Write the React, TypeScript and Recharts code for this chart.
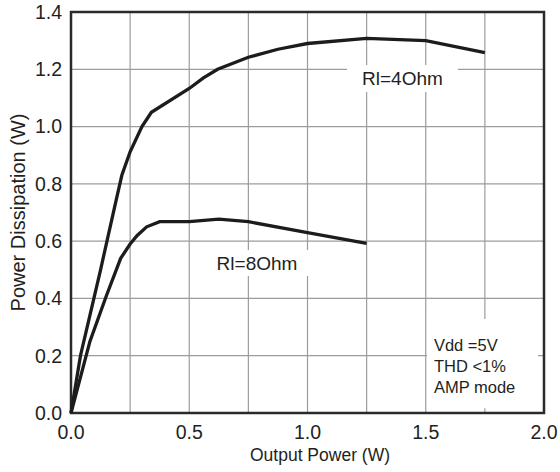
import React from 'react';
import { LineChart, Line, XAxis, YAxis, CartesianGrid, ReferenceArea } from 'recharts';

const rl4X = [0, 0.04, 0.125, 0.19, 0.215, 0.25, 0.3, 0.34, 0.5, 0.56, 0.62, 0.75, 0.875, 1.0, 1.25, 1.5, 1.75];
const rl4Y = [0, 0.2, 0.5, 0.74, 0.83, 0.912, 1.0, 1.05, 1.133, 1.17, 1.2, 1.242, 1.27, 1.29, 1.308, 1.3, 1.258];
const rl8X = [0, 0.08, 0.15, 0.21, 0.25, 0.28, 0.32, 0.375, 0.5, 0.625, 0.75, 1.0, 1.25];
const rl8Y = [0, 0.25, 0.41, 0.54, 0.59, 0.62, 0.65, 0.668, 0.668, 0.677, 0.668, 0.63, 0.592];

const xTickValues = [0, 0.25, 0.5, 0.75, 1.0, 1.25, 1.5, 1.75, 2.0];
const xTickLabels = ['0.0', '', '0.5', '', '1.0', '', '1.5', '', '2.0'];
const yTickValues = [0, 0.2, 0.4, 0.6, 0.8, 1.0, 1.2, 1.4];
const yTickLabels = ['0.0', '0.2', '0.4', '0.6', '0.8', '1.0', '1.2', '1.4'];

const seriesNames = ['Rl=4Ohm', 'Rl=8Ohm'];
const noteLines = ['Vdd =5V', 'THD <1%', 'AMP mode'];
const xTitle = 'Output Power (W)';
const yTitle = 'Power Dissipation (W)';

const rl4Data = rl4X.map((x, i) => ({ x, y: rl4Y[i] }));
const rl8Data = rl8X.map((x, i) => ({ x, y: rl8Y[i] }));

const FONT = '"Liberation Sans", Arial, Helvetica, sans-serif';
const TEXT = '#231f20';

const CenterText = (props: any) => {
  const vb = props.viewBox || {};
  return (
    <text
      x={vb.x + vb.width / 2}
      y={vb.y + vb.height / 2}
      textAnchor="middle"
      dominantBaseline="central"
      fontSize={19}
      fontFamily={FONT}
      fill={TEXT}
    >
      {props.text}
    </text>
  );
};

const NoteText = (props: any) => {
  const vb = props.viewBox || {};
  return (
    <g>
      {props.lines.map((l: string, i: number) => (
        <text
          key={i}
          x={vb.x + 7}
          y={vb.y + 26 + i * 21}
          dominantBaseline="central"
          fontSize={16.5}
          fontFamily={FONT}
          fill={TEXT}
        >
          {l}
        </text>
      ))}
    </g>
  );
};

const XTitle = (props: any) => {
  const vb = props.viewBox || {};
  return (
    <text x={320} y={vb.y + 48} textAnchor="middle" fontSize={17.5} fontFamily={FONT} fill={TEXT}>
      {xTitle}
    </text>
  );
};

const YTitle = () => (
  <text
    x={0}
    y={0}
    transform="translate(25,212.5) rotate(-90)"
    textAnchor="middle"
    fontSize={20}
    fontFamily={FONT}
    fill={TEXT}
  >
    {yTitle}
  </text>
);

export default function App() {
  return (
    <div style={{ position: 'absolute', left: 0, top: 0, width: 560, height: 472, background: '#fff' }}>
      <LineChart width={560} height={472} margin={{ top: 12, right: 16, bottom: 0, left: 0 }}>
        <CartesianGrid stroke="#9c9c9c" strokeWidth={1.2} />
        <XAxis
          dataKey="x"
          type="number"
          domain={[0, 2]}
          ticks={xTickValues}
          tickFormatter={(v: number) => xTickLabels[xTickValues.indexOf(v)] ?? ''}
          height={59}
          tickLine={false}
          tickSize={0}
          tickMargin={12.5}
          axisLine={false}
          interval={0}
          tick={{ fontSize: 19.5, fontFamily: FONT, fill: TEXT }}
          label={<XTitle />}
        />
        <YAxis
          type="number"
          domain={[0, 1.4]}
          ticks={yTickValues}
          tickFormatter={(v: number) => yTickLabels[yTickValues.indexOf(v)] ?? ''}
          width={71}
          tickLine={false}
          tickSize={0}
          tickMargin={9}
          axisLine={false}
          interval={0}
          tick={{ fontSize: 19.5, fontFamily: FONT, fill: TEXT }}
          label={<YTitle />}
        />
        <ReferenceArea x1={1.167} x2={1.636} y1={1.121} y2={1.215} fill="#fff" fillOpacity={1} stroke="none" label={<CenterText text={seriesNames[0]} />} />
        <ReferenceArea x1={0.552} x2={1.021} y1={0.478} y2={0.569} fill="#fff" fillOpacity={1} stroke="none" label={<CenterText text={seriesNames[1]} />} />
        <ReferenceArea x1={1.505} x2={1.975} y1={0.017} y2={0.328} fill="#fff" fillOpacity={1} stroke="none" label={<NoteText lines={noteLines} />} />
        <Line data={rl4Data} dataKey="y" type="linear" stroke="#1c1c1c" strokeWidth={3.3} dot={false} isAnimationActive={false} name={seriesNames[0]} />
        <Line data={rl8Data} dataKey="y" type="linear" stroke="#1c1c1c" strokeWidth={3.3} dot={false} isAnimationActive={false} name={seriesNames[1]} />
        <ReferenceArea x1={0} x2={2} y1={0} y2={1.4} fill="none" stroke="#2a2a2a" strokeWidth={2.5} />
      </LineChart>
    </div>
  );
}
